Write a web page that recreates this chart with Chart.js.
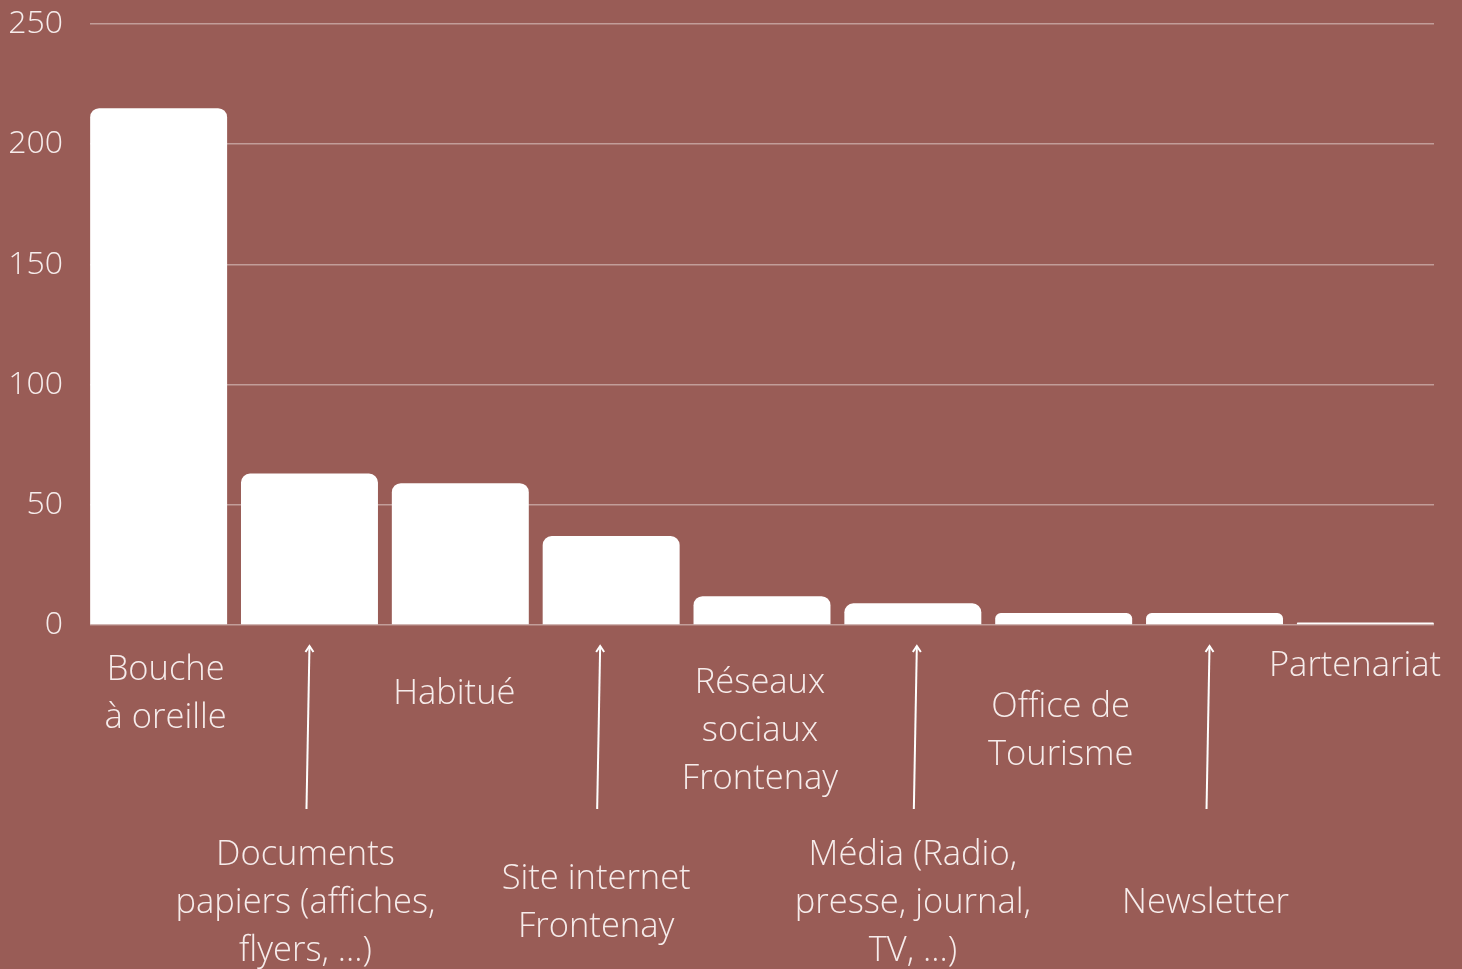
<!DOCTYPE html>
<html>
<head>
<meta charset="utf-8">
<script src="https://cdn.jsdelivr.net/npm/chart.js@4.4.0/dist/chart.umd.min.js"></script>
<style>
  html, body { margin: 0; padding: 0; background: #995c56; }
  #wrap { width: 1462px; height: 969px; position: relative; }
</style>
</head>
<body>
<div id="wrap"><canvas id="chart"></canvas></div>
<script>
const categories = [
  ["Bouche", "à oreille"],
  ["Documents", "papiers (affiches,", "flyers, ...)"],
  ["Habitué"],
  ["Site internet", "Frontenay"],
  ["Réseaux", "sociaux", "Frontenay"],
  ["Média (Radio,", "presse, journal,", "TV, ...)"],
  ["Office de", "Tourisme"],
  ["Newsletter"],
  ["Partenariat"]
];
const counts = [215, 63, 59, 37, 12, 9, 5, 5, 1];
const yTicks = [0, 50, 100, 150, 200, 250];

const textColor = "#f6eceb";
const fontFamily = "'Open Sans', sans-serif";

// labels under the axis: upper row for even, lower row (with arrow) for odd
const upperCenterY = [694, null, 694, null, 731, null, 731, null, 666];
const labelShiftX = [7, -4, -6, -15, -2, 0, -3, -9, -9];

const labelPlugin = {
  id: "catLabels",
  afterDraw(chart) {
    const ctx = chart.ctx;
    const xs = chart.scales.x;
    const lineH = 48;
    ctx.save();
    ctx.fillStyle = textColor;
    ctx.strokeStyle = "#ffffff";
    ctx.font = "300 34.5px " + fontFamily;
    ctx.textAlign = "center";
    ctx.textBaseline = "middle";
    categories.forEach((lines, i) => {
      const cx = xs.getPixelForValue(i) + labelShiftX[i];
      let cy;
      if (i % 2 === 0) {
        cy = upperCenterY[i];
      } else {
        cy = 903;
        // arrow up to the axis
        const x0 = cx + 1, y0 = 809, x1 = cx + 4, y1 = 646;
        ctx.lineWidth = 2;
        ctx.beginPath();
        ctx.moveTo(x0, y0);
        ctx.lineTo(x1, y1);
        ctx.stroke();
        ctx.beginPath();
        ctx.moveTo(x1 - 4, y1 + 6);
        ctx.lineTo(x1, y1);
        ctx.lineTo(x1 + 4, y1 + 6);
        ctx.stroke();
      }
      const top = cy - (lines.length - 1) * lineH / 2;
      lines.forEach((t, k) => {
        const w = ctx.measureText(t).width;
        let x = cx;
        if (x + w / 2 > chart.width - 21) x = chart.width - 21 - w / 2;
        ctx.fillText(t, x, top + k * lineH);
      });
    });
    ctx.restore();
  }
};

new Chart(document.getElementById("chart"), {
  type: "bar",
  data: {
    datasets: [{
      data: counts.map((v, i) => ({ x: i, y: v })),
      backgroundColor: "#ffffff",
      borderRadius: { topLeft: 9, topRight: 9, bottomLeft: 0, bottomRight: 0 },
      borderSkipped: "bottom",
      categoryPercentage: 1,
      barPercentage: 0.908
    }]
  },
  options: {
    responsive: true,
    maintainAspectRatio: false,
    animation: false,
    layout: { padding: { top: 24, right: 28, bottom: 336, left: 0 } },
    plugins: { legend: { display: false }, tooltip: { enabled: false } },
    scales: {
      x: {
        type: "linear",
        min: -0.455,
        max: 8.455,
        offset: false,
        afterBuildTicks(scale) {
          scale.ticks = counts.map((v, i) => ({ value: i }));
        },
        grid: { display: false },
        border: { display: false },
        ticks: { display: false }
      },
      y: {
        min: 0,
        max: 250,
        afterBuildTicks(scale) {
          scale.ticks = yTicks.map(v => ({ value: v }));
        },
        afterFit(scale) {
          scale.width = 90;
          scale.paddingTop = 0;
          scale.paddingBottom = 0;
        },
        grid: { color: "rgba(255,255,255,0.4)", lineWidth: 1.5, drawTicks: false },
        border: { display: false },
        ticks: {
          color: textColor,
          padding: 27,
          font: { family: fontFamily, size: 32, weight: 300 }
        }
      }
    }
  },
  plugins: [labelPlugin]
});
</script>
</body>
</html>
